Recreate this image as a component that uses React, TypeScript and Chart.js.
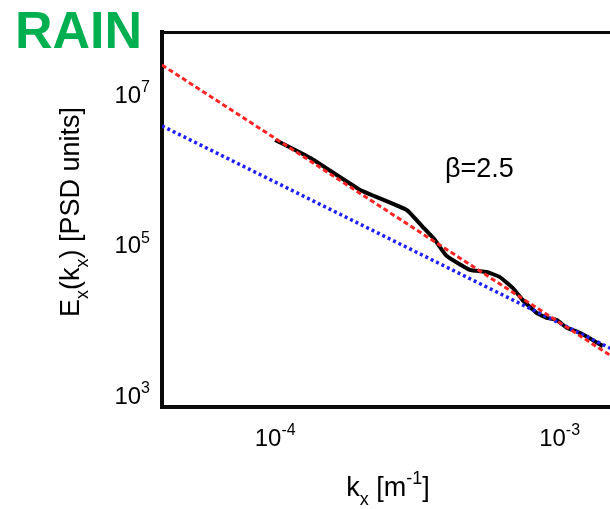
import React, { useEffect, useRef } from "react";
import { Chart, registerables } from "chart.js";

Chart.register(...registerables);

// ---- data ----
const kx = [1.0e-4, 1.33e-4, 1.99e-4, 2.9e-4, 3.3e-4, 3.64e-4, 4.01e-4, 4.83e-4, 5.54e-4, 6.15e-4, 6.84e-4, 7.41e-4, 8.3e-4, 9.0e-4, 9.76e-4, 1.06e-3, 1.15e-3, 1.25e-3, 1.42e-3];
const psd = [2.28e6, 1.31e6, 4.93e5, 2.67e5, 1.59e5, 1.07e5, 6.5e4, 4.25e4, 3.99e4, 3.43e4, 2.45e4, 1.69e4, 1.14e4, 9.8e3, 9.2e3, 7.2e3, 6.4e3, 5.5e3, 4.1e3];
const fitKx = [4.0e-5, 1.6e-3];
const fitRed = [2.26e7, 2.67e3]; // beta = 2.5
const fitBlue = [3.5e6, 3.44e3];
const xTicks = [1e-4, 1e-3];
const xTickExp = ["-4", "-3"];
const yTicks = [1e3, 1e5, 1e7];
const yTickExp = ["3", "5", "7"];
const xRange = [4.0e-5, 1.917e-3];
const yRange = [637, 6.22e7];
const title = "RAIN";
const annotation = "β=2.5";

const FAMILY = "'Liberation Sans', Arial, sans-serif";
const FRAME = "#0a0a0a";

type Seg = { t: string; sub?: boolean; sup?: boolean };

function drawRich(ctx: CanvasRenderingContext2D, segs: Seg[], x: number, y: number, size: number, align: "left" | "center" | "right") {
  const small = Math.round(size * 0.66);
  let w = 0;
  for (const s of segs) {
    ctx.font = `${s.sub || s.sup ? small : size}px ${FAMILY}`;
    w += ctx.measureText(s.t).width;
  }
  let cx = align === "center" ? x - w / 2 : align === "right" ? x - w : x;
  ctx.textAlign = "left";
  ctx.textBaseline = "alphabetic";
  for (const s of segs) {
    ctx.font = `${s.sub || s.sup ? small : size}px ${FAMILY}`;
    const dy = s.sub ? size * 0.32 : s.sup ? -size * 0.45 : 0;
    ctx.fillText(s.t, cx, y + dy);
    cx += ctx.measureText(s.t).width;
  }
}

const textPlugin = {
  id: "richText",
  afterDraw(chart: any) {
    const ctx: CanvasRenderingContext2D = chart.ctx;
    ctx.save();
    ctx.fillStyle = "#000";
    const xs = chart.scales.x;
    const ys = chart.scales.y;
    xs.ticks.forEach((t: any, i: number) => {
      const px = xs.getPixelForValue(t.value);
      drawRich(ctx, [{ t: "10" }, { t: xTickExp[i], sup: true }], px, 446, 24, "center");
    });
    ys.ticks.forEach((t: any, i: number) => {
      const py = ys.getPixelForValue(t.value);
      drawRich(ctx, [{ t: "10" }, { t: yTickExp[i], sup: true }], 150, py + 11.5, 24, "right");
    });
    drawRich(ctx, [{ t: "k" }, { t: "x", sub: true }, { t: " [m" }, { t: "-1", sup: true }, { t: "]" }], 388, 496, 27, "center");
    ctx.save();
    ctx.translate(79, 212);
    ctx.rotate(-Math.PI / 2);
    drawRich(ctx, [{ t: "E" }, { t: "x", sub: true }, { t: "(k" }, { t: "x", sub: true }, { t: ") [PSD units]" }], 0, 0, 27, "center");
    ctx.restore();
    drawRich(ctx, [{ t: annotation }], 445, 177, 27, "left");
    ctx.fillStyle = "#00B050";
    ctx.font = `bold 52px ${FAMILY}`;
    ctx.textAlign = "left";
    ctx.textBaseline = "alphabetic";
    ctx.fillText(title, 15, 48);
    ctx.restore();
  },
};

export default function App() {
  const ref = useRef<HTMLCanvasElement | null>(null);
  useEffect(() => {
    if (!ref.current) return;
    const chart = new Chart(ref.current, {
      type: "scatter",
      data: {
        datasets: [
          {
            label: "fit beta=2.5",
            data: fitKx.map((x, i) => ({ x, y: fitRed[i] })),
            showLine: true,
            borderColor: "#ff2424",
            borderWidth: 3,
            borderDash: [5, 3],
            pointRadius: 0,
          },
          {
            label: "fit",
            data: fitKx.map((x, i) => ({ x, y: fitBlue[i] })),
            showLine: true,
            borderColor: "#2020ff",
            borderWidth: 3.5,
            borderDash: [3, 3],
            pointRadius: 0,
          },
          {
            label: "PSD",
            data: kx.map((x, i) => ({ x, y: psd[i] })),
            showLine: true,
            borderColor: "#000000",
            borderWidth: 4,
            pointRadius: 0,
            tension: 0.12,
          },
        ],
      },
      options: {
        animation: false,
        responsive: false,
        events: [],
        layout: { padding: 0 },
        plugins: { legend: { display: false }, tooltip: { enabled: false } },
        scales: {
          x: {
            type: "logarithmic",
            position: "bottom",
            min: xRange[0],
            max: xRange[1],
            grid: { display: false },
            border: { display: true, color: FRAME, width: 4 },
            ticks: { display: false },
            afterBuildTicks: (s: any) => {
              s.ticks = xTicks.map((v) => ({ value: v }));
            },
            afterFit: (s: any) => {
              s.height = 102;
            },
          },
          x2: {
            type: "linear",
            position: "top",
            grid: { display: false },
            border: { display: true, color: FRAME, width: 3 },
            ticks: { display: false },
            afterFit: (s: any) => {
              s.height = 32;
            },
          },
          y: {
            type: "logarithmic",
            position: "left",
            min: yRange[0],
            max: yRange[1],
            grid: { display: false },
            border: { display: true, color: FRAME, width: 4 },
            ticks: { display: false },
            afterBuildTicks: (s: any) => {
              s.ticks = yTicks.map((v) => ({ value: v }));
            },
            afterFit: (s: any) => {
              s.width = 162;
            },
          },
        },
      } as any,
      plugins: [textPlugin],
    });
    return () => chart.destroy();
  }, []);
  return (
    <div style={{ position: "absolute", left: 0, top: 0, width: 610, height: 509, overflow: "hidden", background: "#fff" }}>
      <canvas ref={ref} width={640} height={509} />
    </div>
  );
}
